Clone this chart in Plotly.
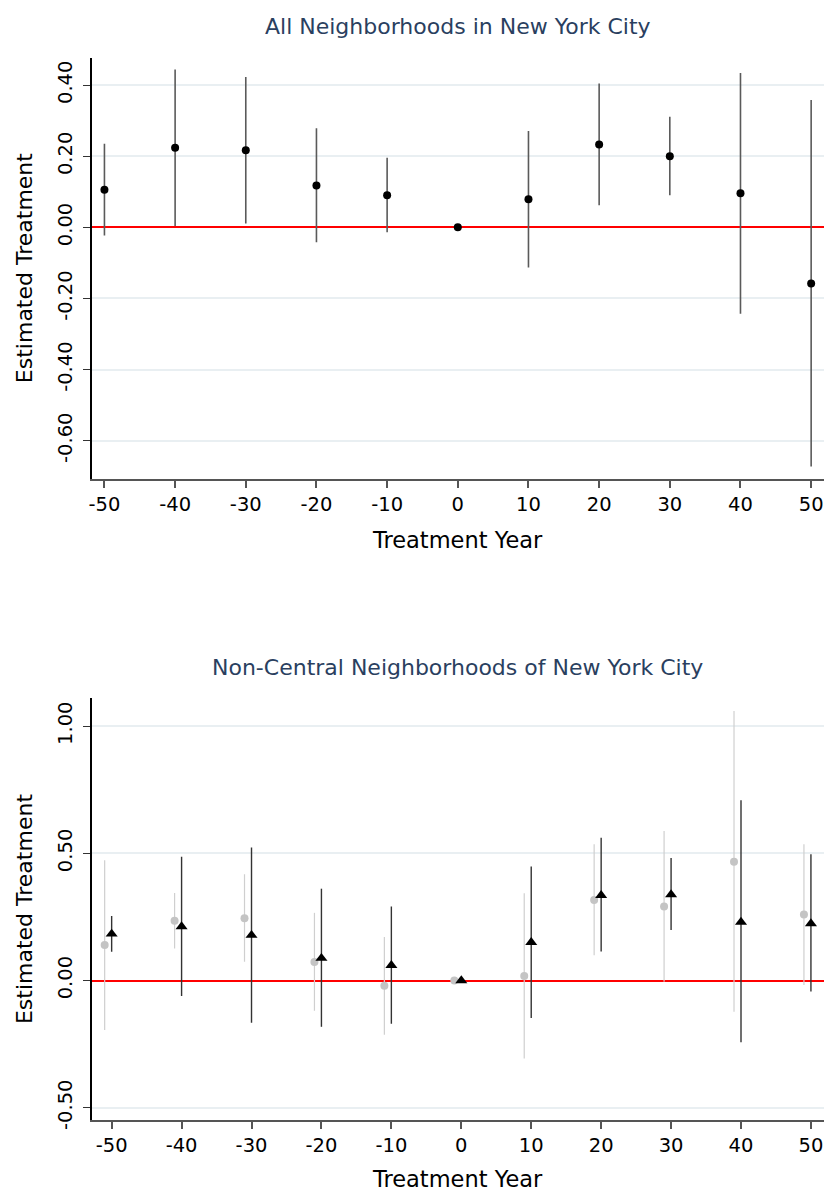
import plotly.graph_objects as go

# ---------------- data ----------------
years = [-50, -40, -30, -20, -10, 0, 10, 20, 30, 40, 50]

# Panel 1: All neighborhoods
all_est = [0.106, 0.224, 0.217, 0.118, 0.090, 0.0, 0.079, 0.233, 0.200, 0.096, -0.158]
all_lo = [-0.023, 0.004, 0.011, -0.042, -0.014, 0.0, -0.113, 0.062, 0.090, -0.243, -0.673]
all_hi = [0.235, 0.444, 0.423, 0.279, 0.196, 0.0, 0.271, 0.405, 0.311, 0.434, 0.358]

# Panel 2: Non-central neighborhoods, two series
gray_est = [0.140, 0.235, 0.245, 0.073, -0.021, 0.0, 0.018, 0.317, 0.291, 0.467, 0.260]
gray_lo = [-0.195, 0.126, 0.074, -0.119, -0.213, 0.0, -0.307, 0.099, -0.005, -0.123, -0.018]
gray_hi = [0.473, 0.344, 0.418, 0.266, 0.171, 0.0, 0.343, 0.536, 0.588, 1.060, 0.536]

tri_est = [0.183, 0.212, 0.178, 0.088, 0.060, 0.0, 0.150, 0.335, 0.338, 0.230, 0.224]
tri_lo = [0.113, -0.061, -0.166, -0.182, -0.170, 0.0, -0.147, 0.114, 0.199, -0.243, -0.043]
tri_hi = [0.254, 0.487, 0.523, 0.361, 0.291, 0.0, 0.448, 0.561, 0.482, 0.709, 0.496]

x_tickvals = [-50, -40, -30, -20, -10, 0, 10, 20, 30, 40, 50]
x_ticktext = ["-50", "-40", "-30", "-20", "-10", "0", "10", "20", "30", "40", "50"]
y1_tickvals = [0.4, 0.2, 0.0, -0.2, -0.4, -0.6]
y1_ticktext = ["0.40", "0.20", "0.00", "-0.20", "-0.40", "-0.60"]
y2_tickvals = [1.0, 0.5, 0.0, -0.5]
y2_ticktext = ["1.00", "0.50", "0.00", "-0.50"]

title_top = "All Neighborhoods in New York City"
title_bottom = "Non-Central Neighborhoods of New York City"
x_title = "Treatment Year"
y_title = "Estimated Treatment"

FONT = "DejaVu Sans"
W, H = 828, 1201  # page area (body margin removed below)


def px_x(v):
    return v / W


def px_y(v):
    return 1 - v / H


def err(est, lo, hi):
    return [h - e for e, h in zip(est, hi)], [e - l for e, l in zip(est, lo)]


fig = go.Figure()

# Panel 1
p, m = err(all_est, all_lo, all_hi)
fig.add_trace(go.Scatter(
    x=years, y=all_est, mode="markers", xaxis="x", yaxis="y",
    marker=dict(symbol="circle", size=8, color="black"),
    error_y=dict(type="data", symmetric=False, array=p, arrayminus=m,
                 color="#5a5a5a", thickness=1.6, width=0),
    showlegend=False,
))

# Panel 2 gray series (dodged left by 1 year)
p, m = err(gray_est, gray_lo, gray_hi)
fig.add_trace(go.Scatter(
    x=[y - 1 for y in years], y=gray_est, mode="markers", xaxis="x2", yaxis="y2",
    marker=dict(symbol="circle", size=8, color="#c4c4c4"),
    error_y=dict(type="data", symmetric=False, array=p, arrayminus=m,
                 color="#cfcfcf", thickness=1.2, width=0),
    showlegend=False,
))
# Panel 2 black triangles
p, m = err(tri_est, tri_lo, tri_hi)
fig.add_trace(go.Scatter(
    x=years, y=tri_est, mode="markers", xaxis="x2", yaxis="y2",
    marker=dict(symbol="triangle-up", size=10.5, color="black"),
    error_y=dict(type="data", symmetric=False, array=p, arrayminus=m,
                 color="#333333", thickness=1.4, width=0),
    showlegend=False,
))

xdom = [px_x(88.5), px_x(823.5)]
y1dom = [px_y(482.7), px_y(58.3)]
y2dom = [px_y(1129.3), px_y(704.3)]

xcommon = dict(
    tickmode="array", tickvals=x_tickvals, ticktext=x_ticktext,
    showgrid=False, zeroline=False, showline=True, linecolor="#555555", linewidth=2,
    ticks="outside", ticklen=7, tickcolor="#555555", tickwidth=1.5,
    tickfont=dict(family=FONT, size=19.5, color="black"),
)
ycommon = dict(
    tickmode="array", tickangle=-90,
    showgrid=True, gridcolor="#e9eff2", gridwidth=1.5,
    zeroline=True, zerolinecolor="red", zerolinewidth=1.6,
    showline=True, linecolor="black", linewidth=1.5,
    ticks="outside", ticklen=7, tickcolor="#333333", tickwidth=1.2,
    ticklabelstandoff=4,
    tickfont=dict(family=FONT, size=19.5, color="black"),
)

fig.update_layout(
    width=W, height=H,
    margin=dict(l=0, r=0, t=0, b=0),
    paper_bgcolor="white", plot_bgcolor="white",
    xaxis=dict(domain=xdom, anchor="y", range=[-51.75, 51.75], **xcommon),
    yaxis=dict(domain=y1dom, anchor="x", range=[-0.707, 0.477],
               tickvals=y1_tickvals, ticktext=y1_ticktext, **ycommon),
    xaxis2=dict(domain=xdom, anchor="y2", range=[-52.8, 51.8], **xcommon),
    yaxis2=dict(domain=y2dom, anchor="x2", range=[-0.548, 1.109],
                tickvals=y2_tickvals, ticktext=y2_ticktext, **ycommon),
)

xc = px_x((88.5 + 823.5) / 2)
ann = []
for txt, yc in [(title_top, 27), (title_bottom, 673)]:
    ann.append(dict(text=txt, x=xc, y=px_y(yc), xref="paper", yref="paper",
                    showarrow=False, xanchor="center", yanchor="middle",
                    font=dict(family=FONT, size=22, color="#2a3f5f")))
for yc in [545, 1189]:
    ann.append(dict(text=x_title, x=xc, y=px_y(yc), xref="paper", yref="paper",
                    showarrow=False, xanchor="center", yanchor="middle",
                    font=dict(family=FONT, size=22.5, color="black")))
for yc in [(58.3 + 482.7) / 2, (704.3 + 1129.3) / 2]:
    ann.append(dict(text=y_title, x=px_x(20), y=px_y(yc), xref="paper", yref="paper",
                    showarrow=False, xanchor="center", yanchor="middle", textangle=-90,
                    font=dict(family=FONT, size=22, color="black")))
fig.update_layout(annotations=ann)

fig.write_html(
    "out.html",
    config={"displayModeBar": False},
    post_script=("document.body.style.margin='0';document.body.style.overflow='hidden';"
                 "document.documentElement.style.overflow='hidden';"),
)
